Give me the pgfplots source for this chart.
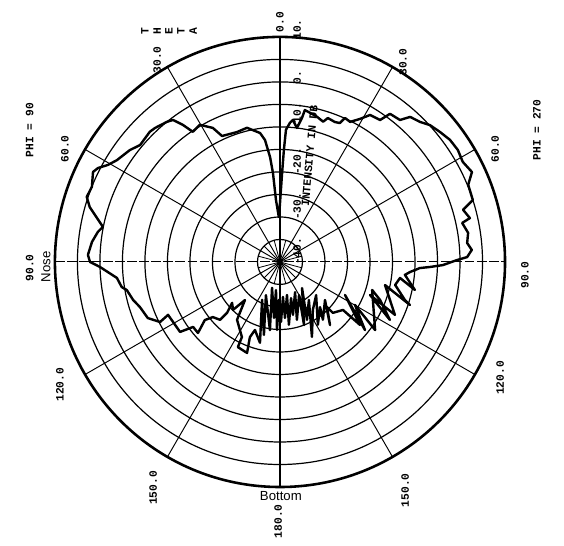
\documentclass[border=0pt]{standalone}
\usepackage{pgfplots}
\pgfplotsset{compat=1.18}
\usepackage{pgfplotstable}
\usepackage{fontspec}
\setmainfont{Liberation Sans}
\newfontfamily\plotfont{Liberation Mono}
\newcommand{\lab}{\plotfont\bfseries\fontsize{7}{8}\selectfont}

% theta (deg from top), phi (90 = left half, 270 = right half), intensity (dB)
\pgfplotstableread{
theta phi db
1.3 90 -30.2
3.7 90 -26.2
4.5 90 -20.2
5.4 90 -16.6
7.0 90 -12.7
8.8 90 -11.0
13.8 90 -9.3
18.3 90 -9.6
24.7 90 -9.2
26.6 90 -6.7
30.3 90 -4.7
33.8 90 -5.2
35.3 90 -2.7
37.0 90 -0.5
38.9 90 0.0
43.0 90 0.7
45.0 90 0.9
50.1 90 0.5
53.3 90 1.6
58.0 90 2.7
60.6 90 3.9
62.7 90 5.5
64.3 90 6.1
68.2 90 5.0
71.4 90 5.3
73.9 90 4.0
76.5 90 1.8
78.8 90 0.1
80.6 90 1.0
83.9 90 2.0
87.9 90 2.7
90.0 90 2.2
91.6 90 0.0
95.6 90 -3.6
99.0 90 -4.4
100.4 90 -5.4
104.5 90 -6.3
107.8 90 -7.3
113.0 90 -8.1
116.6 90 -10.2
115.3 90 -12.5
125.0 90 -12.9
126.8 90 -15.9
130.9 90 -15.9
127.7 90 -18.9
129.4 90 -20.7
134.0 90 -21.5
133.9 90 -23.7
130.5 90 -26.0
135.6 90 -25.1
137.4 90 -28.5
143.4 90 -24.0
153.1 90 -21.3
153.7 90 -18.9
160.1 90 -18.5
158.2 90 -22.0
159.8 90 -23.9
166.1 90 -21.5
154.7 90 -30.7
167.6 90 -23.4
157.0 90 -32.0
171.6 90 -24.7
162.9 90 -34.0
173.9 90 -27.5
171.9 90 -33.7
177.5 90 -24.9
178.5 90 -31.6
179.0 270 -26.7
175.1 270 -32.2
174.9 270 -27.5
168.0 270 -32.5
171.9 270 -25.9
163.0 270 -31.6
166.2 270 -27.9
153.4 270 -32.5
163.7 270 -26.6
150.1 270 -31.5
159.1 270 -25.0
139.8 270 -32.4
155.0 270 -25.8
142.7 270 -29.4
156.9 270 -21.9
145.5 270 -27.1
132.5 270 -29.1
148.9 270 -23.7
138.4 270 -26.6
143.4 270 -24.0
130.2 270 -26.9
141.6 270 -22.1
133.8 270 -25.5
133.9 270 -23.7
127.3 270 -22.4
128.2 270 -17.4
116.9 270 -23.8
128.7 270 -15.8
119.8 270 -20.8
125.6 270 -14.0
106.9 270 -18.6
110.8 270 -16.2
117.8 270 -12.4
110.1 270 -18.7
114.7 270 -11.9
102.4 270 -16.1
108.3 270 -9.6
106.9 270 -11.0
101.3 270 -13.9
97.6 270 -13.1
101.7 270 -9.4
95.9 270 -12.1
94.4 270 -11.0
92.5 270 -8.9
91.9 270 -6.6
91.1 270 -3.8
89.4 270 -0.7
88.5 270 1.6
86.4 270 2.7
84.2 270 1.8
81.2 270 2.3
77.9 270 1.4
77.0 270 3.3
74.1 270 2.3
72.2 270 5.0
67.7 270 5.2
64.9 270 7.1
61.3 270 6.3
57.8 270 6.7
54.3 270 6.5
50.9 270 5.8
47.6 270 5.1
45.0 270 4.0
41.9 270 3.3
40.2 270 1.3
36.6 270 1.0
35.2 270 -1.4
31.5 270 -1.7
29.2 270 -3.6
26.6 270 -5.2
24.3 270 -4.9
23.3 270 -6.4
21.4 270 -6.6
18.4 270 -6.3
17.1 270 -7.4
14.3 270 -6.7
11.4 270 -6.2
9.3 270 -5.8
8.7 270 -7.6
7.2 270 -10.0
5.2 270 -8.3
4.1 270 -9.0
2.6 270 -10.6
2.0 270 -15.1
1.3 270 -20.7
1.3 90 -30.2
}\curve

\begin{document}
\begin{tikzpicture}
\begin{axis}[
  x=2.8pt, y=2.8pt,
  xmin=-62.2, xmax=63.1, ymin=-62.9, ymax=58.2,
  hide axis, clip=false,
]
\coordinate (ll) at (axis cs:-62.2,-62.9);
\coordinate (ur) at (axis cs:63.1,58.2);
% rings
\pgfplotsinvokeforeach{1,...,9}{
  \draw[black, line width=0.75pt] (axis cs:0,0) circle[radius=#1*14pt];
}
\draw[black, line width=1.6pt] (axis cs:0,0) circle[radius=140pt];
% spokes
\pgfplotsinvokeforeach{30,60,120,150,210,240,300,330}{
  \draw[black, line width=0.6pt] (axis cs:0,0) -- ++(#1:140pt);
}
\pgfplotsinvokeforeach{15,45,75,105,135,165,195,225,255,285,315,345}{
  \draw[black, line width=0.5pt] (axis cs:0,0) -- ++(#1:14pt);
}
\draw[black, line width=0.8pt] (axis cs:0,-50) -- (axis cs:0,50);
\draw[black, line width=0.6pt, dash pattern=on 6pt off 1.5pt] (axis cs:-50,0) -- (axis cs:50,0);

\addplot[black, line width=1.5pt, line join=round, data cs=polar]
  table[x expr={90+(180-\thisrow{phi})/90*\thisrow{theta}}, y expr={\thisrow{db}+40}] {\curve};

% angle labels
\node[rotate=90, font=\lab] at (axis cs:0,53.3) {0.0};
\node[rotate=90, font=\lab] at (axis cs:-27.3,44.9) {30.0};
\node[rotate=90, font=\lab] at (axis cs:27.3,44.4) {30.0};
\node[rotate=90, font=\lab] at (axis cs:-47.8,25.1) {60.0};
\node[rotate=90, font=\lab] at (axis cs:47.8,25.1) {60.0};
\node[rotate=90, font=\lab] at (axis cs:-55.6,-1.3) {90.0};
\node[rotate=90, font=\lab] at (axis cs:54.4,-2.9) {90.0};
\node[rotate=90, font=\lab] at (axis cs:-48.9,-27.3) {120.0};
\node[rotate=90, font=\lab] at (axis cs:48.9,-25.8) {120.0};
\node[rotate=90, font=\lab] at (axis cs:-28.2,-50.2) {150.0};
\node[rotate=90, font=\lab] at (axis cs:27.8,-50.7) {150.0};
\node[rotate=90, font=\lab] at (axis cs:-0.4,-57.6) {180.0};
% PHI labels
\node[rotate=90, font=\lab] at (axis cs:-55.6,29.3) {PHI = 90};
\node[rotate=90, font=\lab] at (axis cs:57.1,29.3) {PHI = 270};
% THETA
\node[rotate=90, font=\lab] at (axis cs:-30.0,51.3) {T};
\node[rotate=90, font=\lab] at (axis cs:-27.3,51.3) {H};
\node[rotate=90, font=\lab] at (axis cs:-24.7,51.3) {E};
\node[rotate=90, font=\lab] at (axis cs:-22.0,51.3) {T};
\node[rotate=90, font=\lab] at (axis cs:-19.3,51.3) {A};
% intensity labels
\node[rotate=90, anchor=west, font=\lab, inner sep=0pt] at (axis cs:3.8,-0.7) {-40.};
\node[rotate=90, anchor=west, font=\lab, inner sep=0pt] at (axis cs:3.8,9.3) {-30.};
\node[rotate=90, anchor=west, font=\lab, inner sep=0pt] at (axis cs:3.8,19.3) {-20.};
\node[rotate=90, anchor=west, font=\lab, inner sep=0pt] at (axis cs:3.8,29.3) {-10.};
\node[rotate=90, anchor=west, font=\lab, inner sep=0pt] at (axis cs:3.8,39.3) {0.};
\node[rotate=90, anchor=west, font=\lab, inner sep=0pt] at (axis cs:3.8,49.3) {10.};
\node[rotate=85, font=\lab] at (axis cs:6.6,23.6) {INTENSITY IN DB};
% annotations
\node[rotate=90, font=\fontsize{8.2}{9}\selectfont] at (axis cs:-52.0,-1.1) {Nose};
\node[font=\fontsize{8.2}{9}\selectfont] at (axis cs:0.2,-52.0) {Bottom};
\end{axis}
\pgfresetboundingbox
\path (ll) rectangle (ur);
\end{tikzpicture}
\end{document}
